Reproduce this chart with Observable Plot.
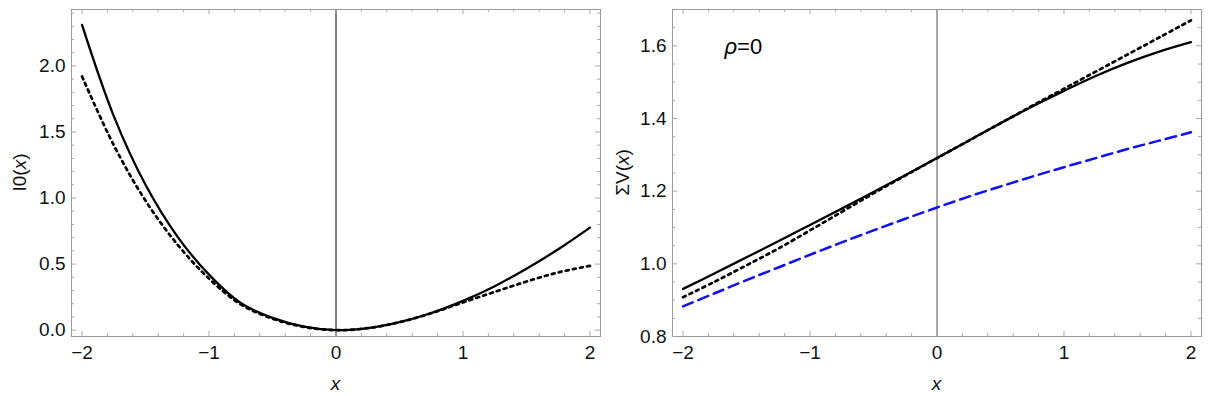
<!DOCTYPE html>
<html><head><meta charset="utf-8">
<script src="https://cdn.jsdelivr.net/npm/d3@7"></script>
<script src="https://cdn.jsdelivr.net/npm/@observablehq/plot@0.6"></script>
<style>
body{margin:0;background:#fff;}
#wrap{display:flex;width:1209px;height:396px;overflow:hidden;}
svg{display:block;flex:none;}
</style></head><body><div id="wrap"></div>
<script>
// ---- data ----
const xs = [-2, -1.75, -1.5, -1.25, -1, -0.75, -0.5, -0.25, 0, 0.25, 0.5, 0.75, 1, 1.25, 1.5, 1.75, 2];
const i0Solid  = [2.31, 1.62, 1.10, 0.71, 0.42, 0.205, 0.093, 0.027, 0.0, 0.015, 0.06, 0.13, 0.222, 0.333, 0.465, 0.612, 0.776];
const i0Dotted = [1.92, 1.40, 0.98, 0.65, 0.39, 0.195, 0.087, 0.024, 0.0, 0.015, 0.06, 0.128, 0.21, 0.29, 0.368, 0.437, 0.487];
const svSolid  = [0.931, 0.974, 1.018, 1.062, 1.107, 1.152, 1.198, 1.244, 1.291, 1.339, 1.387, 1.433, 1.476, 1.517, 1.553, 1.584, 1.61];
const svDotted = [0.908, 0.951, 0.996, 1.042, 1.092, 1.143, 1.194, 1.243, 1.291, 1.339, 1.387, 1.435, 1.482, 1.529, 1.576, 1.623, 1.670];
const svDashed = [0.883, 0.919, 0.955, 0.99, 1.025, 1.059, 1.092, 1.124, 1.155, 1.185, 1.213, 1.24, 1.266, 1.291, 1.316, 1.339, 1.362];

const xMajor = [-2, -1, 0, 1, 2];
const xMinor = [-1.8, -1.6, -1.4, -1.2, -0.8, -0.6, -0.4, -0.2, 0.2, 0.4, 0.6, 0.8, 1.2, 1.4, 1.6, 1.8];
const yMajorLeft = [0, 0.5, 1.0, 1.5, 2.0];
const yMinorLeft = [0.1, 0.2, 0.3, 0.4, 0.6, 0.7, 0.8, 0.9, 1.1, 1.2, 1.3, 1.4, 1.6, 1.7, 1.8, 1.9, 2.1, 2.2, 2.3, 2.4];
const yMajorRight = [0.8, 1.0, 1.2, 1.4, 1.6];
const yMinorRight = [0.85, 0.9, 0.95, 1.05, 1.1, 1.15, 1.25, 1.3, 1.35, 1.45, 1.5, 1.55, 1.65];
const xDomain = [-2.083, 2.083];
const yDomainLeft = [-0.048, 2.427];
const yDomainRight = [0.8, 1.7];
const rhoLabelPos = {x: -1.67, y: 1.575};

const font = "'Liberation Sans', Arial, sans-serif";
const fs = 19;
const frameColor = "#9a9a9a";
const tickColor = "#a8a8a8";
const H = 396, MT = 9, MB = 60;
const majorLen = 5, minorLen = 3;

function series(ys) { return xs.map((x, i) => ({x, y: ys[i]})); }

function frameTicks(W, ML, MR, yMajor, yMinor, yFmt) {
  const fh = H - MT - MB, fw = W - ML - MR;
  const m = [];
  const tx = (data, len) => [
    Plot.tickX(data, {x: d => d, stroke: tickColor, insetTop: fh - len}),
    Plot.tickX(data, {x: d => d, stroke: tickColor, insetBottom: fh - len})
  ];
  const ty = (data, len) => [
    Plot.tickY(data, {y: d => d, stroke: tickColor, insetRight: fw - len}),
    Plot.tickY(data, {y: d => d, stroke: tickColor, insetLeft: fw - len})
  ];
  m.push(...tx(xMajor, majorLen), ...tx(xMinor, minorLen), ...ty(yMajor, majorLen), ...ty(yMinor, minorLen));
  m.push(Plot.axisX({ticks: xMajor, anchor: "bottom", tickSize: 0, tickPadding: 9, tickFormat: d3.format("d"), label: null, fontSize: fs, fill: "#111"}));
  m.push(Plot.axisY({ticks: yMajor, anchor: "left", tickSize: 0, tickPadding: 6, tickFormat: yFmt, label: null, fontSize: fs, fill: "#111"}));
  return m;
}

const solidStyle = {x: "x", y: "y", stroke: "#000", strokeWidth: 2.3, curve: "catmull-rom"};
const dottedStyle = {x: "x", y: "y", stroke: "#000", strokeWidth: 2.7, strokeDasharray: "3,4.2", curve: "catmull-rom"};
const dashedStyle = {x: "x", y: "y", stroke: "#1010f0", strokeWidth: 2.5, strokeDasharray: "10.5,6", curve: "catmull-rom"};

function panel(W, ML, MR, yDomain, yMajor, yMinor, zeroColor, lines) {
  return Plot.plot({
    width: W, height: H,
    marginLeft: ML, marginRight: MR, marginTop: MT, marginBottom: MB,
    style: {fontFamily: font, fontSize: fs + "px", background: "white"},
    x: {domain: xDomain},
    y: {domain: yDomain},
    marks: [
      Plot.ruleX([0], {stroke: zeroColor, strokeWidth: 1}),
      ...lines,
      Plot.frame({stroke: frameColor}),
      ...frameTicks(W, ML, MR, yMajor, yMinor, d3.format(".1f"))
    ]
  });
}

const left = panel(604, 71, 4, yDomainLeft, yMajorLeft, yMinorLeft, "#000", [
  Plot.line(series(i0Dotted), dottedStyle),
  Plot.line(series(i0Solid), solidStyle)
]);
const right = panel(605, 68, 8, yDomainRight, yMajorRight, yMinorRight, "#555", [
  Plot.line(series(svDashed), dashedStyle),
  Plot.line(series(svDotted), dottedStyle),
  Plot.line(series(svSolid), solidStyle)
]);

function addLabels(svg, yLabelParts, yLabelX) {
  const s = d3.select(svg);
  const sx = svg.scale("x");
  const xc = sx.apply((xDomain[0] + xDomain[1]) / 2);
  s.append("text").attr("x", xc).attr("y", 390).attr("text-anchor", "middle")
    .attr("font-family", font).attr("font-size", fs).attr("font-style", "italic").attr("fill", "#111").text("x");
  const sy = svg.scale("y");
  const yc = (sy.apply(sy.domain[0]) + sy.apply(sy.domain[1])) / 2;
  const t = s.append("text").attr("transform", `translate(${yLabelX},${yc}) rotate(-90)`)
    .attr("text-anchor", "middle").attr("dy", "0.35em")
    .attr("font-family", font).attr("font-size", fs).attr("fill", "#111");
  for (const [txt, it] of yLabelParts) {
    const sp = t.append("tspan").text(txt);
    if (it) sp.attr("font-style", "italic");
  }
}

addLabels(left, [["I0(", false], ["x", true], [")", false]], 19);
addLabels(right, [["ΣV(", false], ["x", true], [")", false]], 18);

// ρ=0 annotation
{
  const sx = right.scale("x"), sy = right.scale("y");
  const t = d3.select(right).append("text")
    .attr("x", sx.apply(rhoLabelPos.x)).attr("y", sy.apply(rhoLabelPos.y))
    .attr("text-anchor", "start")
    .attr("font-family", font).attr("font-size", 22).attr("fill", "#000");
  t.append("tspan").attr("font-style", "italic").text("ρ");
  t.append("tspan").text("=0");
}

document.getElementById("wrap").append(left, right);
</script></body></html>
